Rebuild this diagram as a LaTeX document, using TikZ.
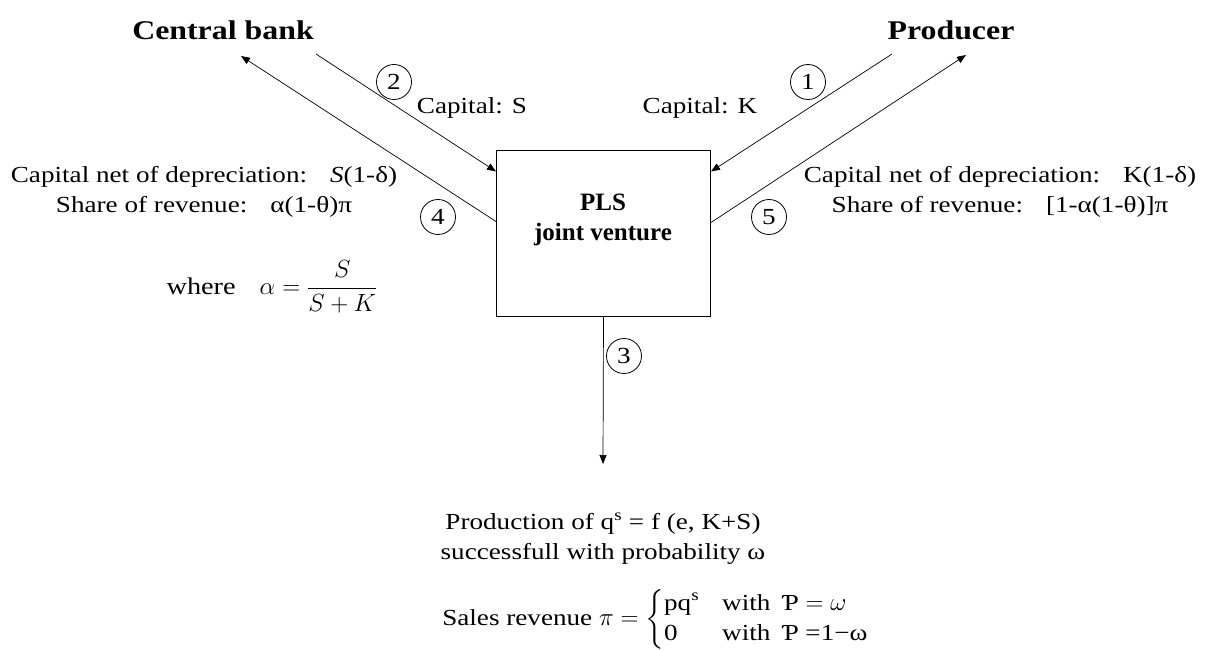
\documentclass[tikz,border=0pt]{standalone}
\usepackage{amsmath}
\usepackage{fontspec}
\setmainfont{Liberation Serif}[FakeStretch=1.18]
\newfontfamily\boxfont{Liberation Serif}
\usetikzlibrary{arrows.meta,calc}
\begin{document}
\begin{tikzpicture}[x=1pt,y=-1pt,
 txt/.style={font=\fontsize{23}{30}\selectfont, inner sep=0pt, align=center},
 ttl/.style={font=\fontsize{27}{30}\selectfont\bfseries, inner sep=0pt},
 num/.style={draw, circle, minimum size=35pt, inner sep=0pt, font=\fontsize{23}{24}\selectfont, line width=0.8pt},
 arr/.style={line width=0.7pt, -{Triangle[length=9pt,width=7pt]}},
 boxst/.style={draw, line width=1pt, minimum width=214pt, minimum height=165pt, inner sep=0pt}]
\useasboundingbox (0,0) rectangle (1227,650);
\node[ttl] (cb) at (223,30) {Central bank};
\node[ttl] (pr) at (951,30) {Producer};
\node[boxst] (jv) at (603.5,233.5) {};
\node[txt, font=\boxfont\fontsize{25}{30}\selectfont\bfseries] (jvt) at (603,220) {PLS\\joint venture};
\coordinate (e2) at (316,54);
\coordinate (e4) at (241,56);
\coordinate (e1) at (892,54);
\coordinate (e5) at (966,55);
\coordinate (e3) at (603,464);
\draw[arr] (e2) -- ([yshift=-21pt]jv.north west);
\draw[arr] ([yshift=-71pt]jv.north west) -- (e4);
\draw[arr] (e1) -- ([yshift=-21pt]jv.north east);
\draw[arr] ([yshift=-72pt]jv.north east) -- (e5);
\draw[arr] (jv.south) -- (e3);
\node[num] (n2) at (394,82) {2};
\node[num] (n4) at (438,217) {4};
\node[num] (n1) at (808,82) {1};
\node[num] (n5) at (769,217) {5};
\node[num] (n3) at (624,356) {3};
\node[txt] (cs) at (472,108) {Capital: S};
\node[txt] (ck) at (700,108) {Capital: K};
\node[txt] (lt) at (204,192) {Capital net of depreciation:\quad \textit{S}(1-δ)\\Share of revenue:\quad α(1-θ)π};
\node[txt] (rt) at (1000,192) {Capital net of depreciation:\quad K(1-δ)\\Share of revenue:\quad [1-α(1-θ)]π};
\node[txt, font=\fontsize{24}{30}\selectfont] (wh) at (272,287) {where\quad $\alpha = \dfrac{S}{S+K}$};
\node[txt] (pd) at (603,539) {Production of q\textsuperscript{s} = f (e, K+S)\\successfull with probability ω};
\node[txt] (sr) at (658,619) {Sales revenue $\pi = \left\{\begin{array}{@{}l@{\quad}l}\text{pq\textsuperscript{s}} & \text{with\, Ƥ} = \omega\\ \text{0} & \text{with\, Ƥ =1−ω}\end{array}\right.$};
\end{tikzpicture}
\end{document}
